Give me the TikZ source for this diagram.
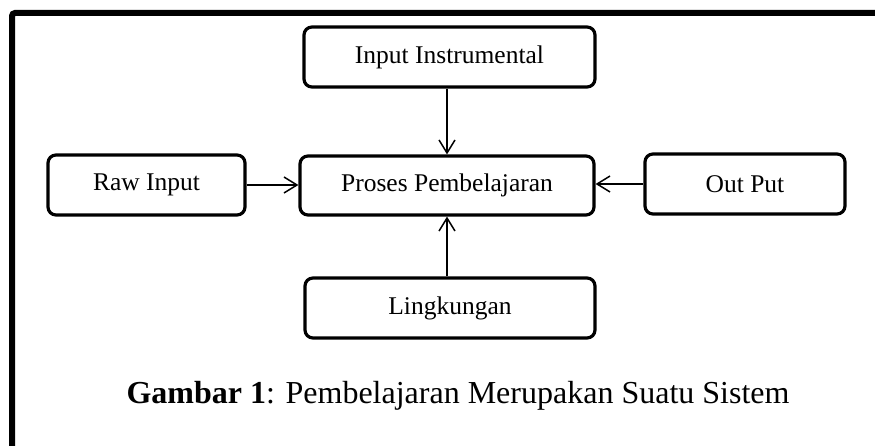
\documentclass[tikz,border=0pt]{standalone}
\usepackage{fontspec}
\setmainfont{Liberation Serif}
\usepackage{tikz}
\usetikzlibrary{shapes,arrows,arrows.meta,positioning,calc}

\begin{document}
\begin{tikzpicture}[x=1pt, y=-1pt,
    kotak/.style={rectangle, rounded corners=8pt, draw, line width=3.2pt, inner sep=0pt,
                  font=\fontsize{25.5}{30}\selectfont},
    panah/.style={line width=1.5pt, -{Straight Barb[length=13pt,width=16pt,line width=1.5pt]}}]
                    \useasboundingbox (0,0) rectangle (875,446);
                    \draw[line width=6pt, rounded corners=3pt] (12,446) -- (12,13) -- (875,13);

                    \node[kotak, minimum width=291pt, minimum height=60pt] (instr) at (449.5,57) {Input Instrumental};
                    \node[kotak, minimum width=294pt, minimum height=59pt] (proses) at (447,185.5) {Proses Pembelajaran};
                    \node[kotak, minimum width=197pt, minimum height=60pt] (raw) at (146.5,185) {Raw Input};
                    \node[kotak, minimum width=200pt, minimum height=60pt] (output) at (745,184) {Out Put};
                    \node[kotak, minimum width=290pt, minimum height=60pt] (ling) at (450,308) {Lingkungan};

                    \draw[panah] (instr.south -| proses) -- (proses.north);
                    \draw[panah] (raw.east) -- (raw.east -| proses.west);
                    \draw[panah] (output.west) -- (output.west -| proses.east);
                    \draw[panah] (ling.north -| proses) -- (proses.south);

                    \node[font=\fontsize{32}{38}\selectfont, anchor=base] (judul) at (458,403)
                        {\textbf{Gambar 1}: Pembelajaran Merupakan Suatu Sistem};
                \end{tikzpicture}
\end{document}
